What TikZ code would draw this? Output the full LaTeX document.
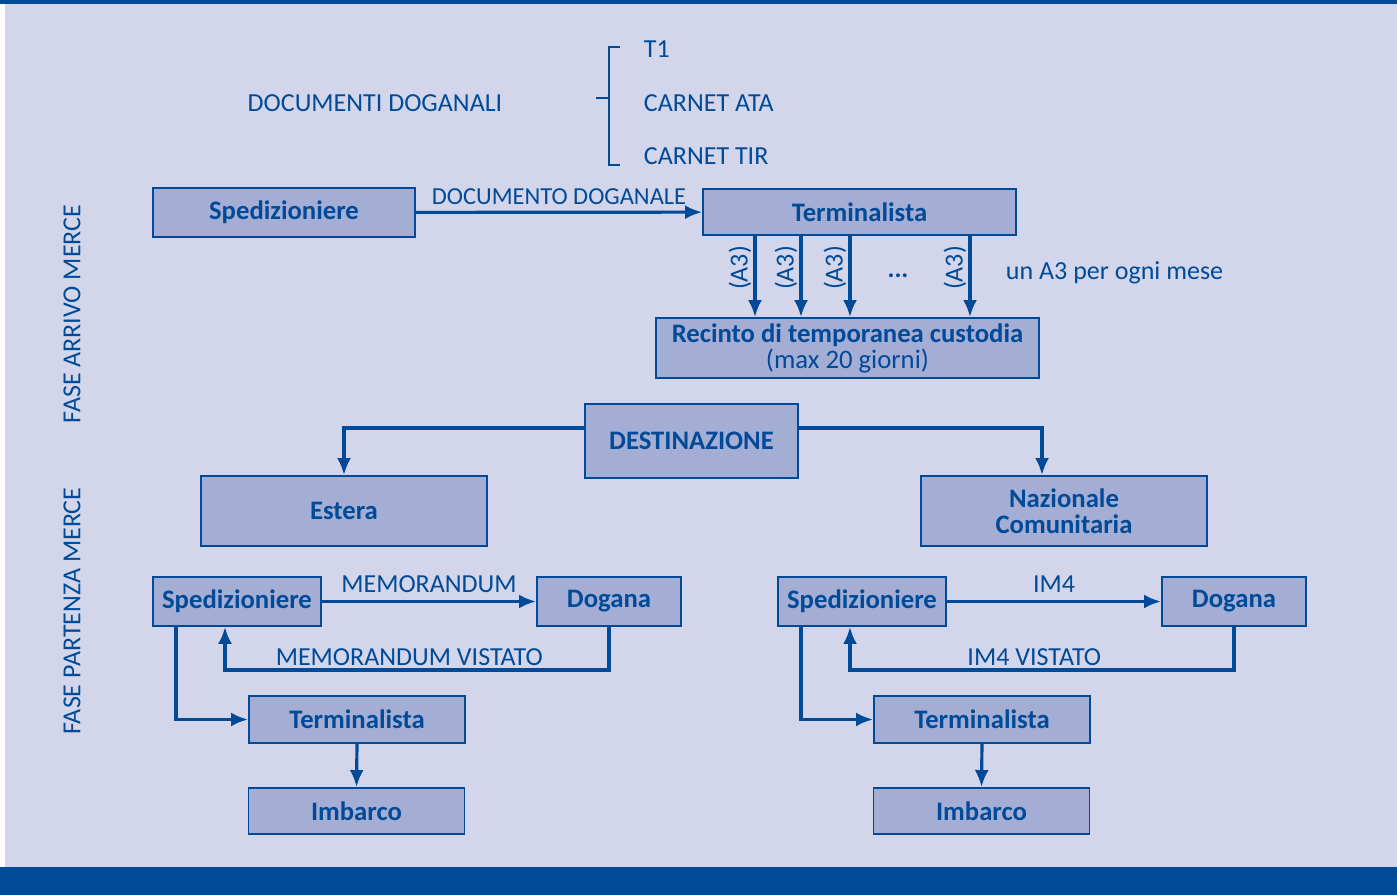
\documentclass[tikz,border=0pt]{standalone}
\usepackage{fontspec}
\setmainfont{Carlito}
\definecolor{bandblue}{RGB}{0, 74, 152}
\definecolor{bglilac}{RGB}{211, 214, 234}
\definecolor{boxlilac}{RGB}{164, 173, 212}
\usetikzlibrary{arrows.meta, positioning, calc}

\begin{document}
\begin{tikzpicture}[x=0.02cm, y=-0.02cm,
  box/.style={draw=bandblue, fill=boxlilac, line width=1.1pt, align=center, inner sep=0pt, text=bandblue, font=\fontsize{15.2}{14.8}\selectfont\bfseries},
  lbl/.style={text=bandblue, font=\fontsize{14.8}{17.5}\selectfont, inner sep=1.5pt},
  arr/.style={draw=bandblue, line width=1.8pt, -{Latex[length=3.4mm, width=2.8mm]}},
  link/.style={draw=bandblue, line width=1.8pt}
]
  \useasboundingbox (0,0) rectangle (1397,895);
  % Background and bands
  \fill[bglilac] (5,4) rectangle (1397,867);
  \fill[bandblue] (0,0) rectangle (1397,4);
  \fill[bandblue] (0,867) rectangle (1397,895);

  % Side labels
  \node[lbl, rotate=90] (arrivo) at (72,314) {FASE ARRIVO MERCE};
  \node[lbl, rotate=90] (partenza) at (72,611) {FASE PARTENZA MERCE};

  % Documents
  \node[lbl] (docs) at (375,103) {DOCUMENTI DOGANALI};
  \draw[link, line width=1.5pt] (620,47) -- (609,47) -- (609,165) -- (620,165);
  \draw[link, line width=1.5pt] (596,98) -- (609,98);
  \node[lbl, anchor=west] (t1) at (641,49) {T1};
  \node[lbl, anchor=west] (ata) at (641,103) {CARNET ATA};
  \node[lbl, anchor=west] (tir) at (641,156) {CARNET TIR};

  % Arrival
  \node[box, minimum width=5.24cm, minimum height=0.98cm] (sped) at (284,212.5) {Spedizioniere};
  \node[box, minimum width=6.26cm, minimum height=0.92cm] (term) at (859.5,212) {Terminalista};
  \node[box, minimum width=7.66cm, minimum height=1.2cm] (recinto) at (847.5,348) {Recinto di temporanea custodia\\\mdseries (max 20 giorni)};
  \draw[arr] (sped) -- node[lbl, above, inner sep=3.5pt, font=\fontsize{13.9}{17}\selectfont] {DOCUMENTO DOGANALE} (term);

  \foreach \x/\n in {755/a, 801/b, 850/c, 970/d} {
    \draw[arr] (\x,0 |- term.south) -- (\x,0 |- recinto.north);
    \node[lbl, rotate=90] (a3\n) at (\x-15,268) {(A3)};
  }
  \node[lbl, font=\fontsize{14.8}{17.5}\selectfont\bfseries] (dots) at (898,276) {...};
  \node[lbl, anchor=west] (mese) at (1003,273) {un A3 per ogni mese};

  % Destination
  \node[box, minimum width=4.26cm, minimum height=1.48cm] (dest) at (691.5,441) {DESTINAZIONE};
  \node[box, minimum width=5.72cm, minimum height=1.4cm] (estera) at (344,511) {Estera};
  \node[box, minimum width=5.72cm, minimum height=1.4cm] (naz) at (1064,511) {Nazionale\\Comunitaria};
  \draw[arr] (dest.west |- 0,428) -| (estera.north);
  \draw[arr] (dest.east |- 0,428) -| (1042,0 |- naz.north);

  % Departure, estera
  \node[box, minimum width=3.36cm, minimum height=0.98cm] (sped1) at (237,601.5) {Spedizioniere};
  \node[box, minimum width=2.88cm, minimum height=0.98cm] (dog1) at (609,601.5) {Dogana};
  \node[box, minimum width=4.32cm, minimum height=0.94cm] (term1) at (357,719.5) {Terminalista};
  \node[box, minimum width=4.32cm, minimum height=0.92cm] (imb1) at (356.5,811) {Imbarco};
  \draw[arr] (sped1) -- node[lbl, above, inner sep=4pt] {MEMORANDUM} (dog1);
  \draw[arr] (dog1.south) |- node[lbl, above, pos=0.76] {MEMORANDUM VISTATO} (225,670) -- (225,0 |- sped1.south);
  \draw[arr] (176,0 |- sped1.south) |- (term1.west);
  \draw[arr] (term1.south) -- (imb1.north);

  % Departure, nazionale
  \node[box, minimum width=3.36cm, minimum height=0.98cm] (sped2) at (862,601.5) {Spedizioniere};
  \node[box, minimum width=2.88cm, minimum height=0.98cm] (dog2) at (1234,601.5) {Dogana};
  \node[box, minimum width=4.32cm, minimum height=0.94cm] (term2) at (982,719.5) {Terminalista};
  \node[box, minimum width=4.32cm, minimum height=0.92cm] (imb2) at (981.5,811) {Imbarco};
  \draw[arr] (sped2) -- node[lbl, above, inner sep=4pt] {IM4} (dog2);
  \draw[arr] (dog2.south) |- node[lbl, above, pos=0.76] {IM4 VISTATO} (850,670) -- (850,0 |- sped2.south);
  \draw[arr] (801,0 |- sped2.south) |- (term2.west);
  \draw[arr] (term2.south) -- (imb2.north);
\end{tikzpicture}
\end{document}
